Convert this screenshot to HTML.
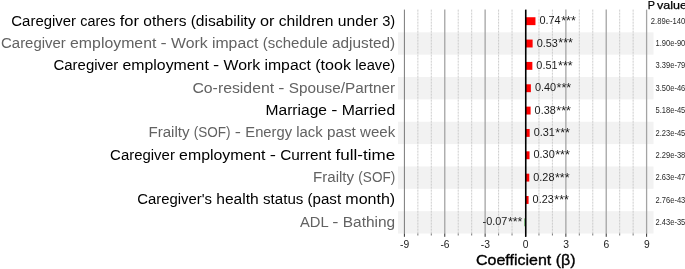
<!DOCTYPE html>
<html><head><meta charset="utf-8"><title>Coefficient plot</title>
<style>
html,body{margin:0;padding:0;background:#fff;}
body{width:685px;height:269px;overflow:hidden;}
svg{display:block;}
text{font-family:"Liberation Sans","DejaVu Sans",sans-serif;}
.lab{font-size:15.4px;}
.val{font-size:11.6px;fill:#1a1a1a;}
.ast{font-size:13.2px;}
.pv{font-size:9px;fill:#2a2a2a;}
.tick{font-size:10.3px;fill:#222;text-anchor:middle;}
.ttl{font-size:15.2px;fill:#000;stroke:#000;stroke-width:0.35px;}
.ph{font-size:11.8px;fill:#000;stroke:#000;stroke-width:0.25px;}
</style></head><body>
<svg width="685" height="269" viewBox="0 0 685 269">
<rect width="685" height="269" fill="#ffffff"/>

<rect x="398" y="32.35" width="255.5" height="22.35" fill="#f2f2f2"/>
<rect x="398" y="77.05" width="255.5" height="22.35" fill="#f2f2f2"/>
<rect x="398" y="121.75" width="255.5" height="22.35" fill="#f2f2f2"/>
<rect x="398" y="166.45" width="255.5" height="22.35" fill="#f2f2f2"/>
<rect x="398" y="211.15" width="255.5" height="22.35" fill="#f2f2f2"/>
<line x1="404.40" x2="404.40" y1="9.60" y2="233.50" stroke="#787878" stroke-width="1.0"/>
<line x1="417.86" x2="417.86" y1="9.60" y2="233.50" stroke="#c2c2c2" stroke-width="0.8" stroke-dasharray="2.1 0.9"/>
<line x1="431.31" x2="431.31" y1="9.60" y2="233.50" stroke="#c2c2c2" stroke-width="0.8" stroke-dasharray="2.1 0.9"/>
<line x1="444.77" x2="444.77" y1="9.60" y2="233.50" stroke="#a4a4a4" stroke-width="1.3"/>
<line x1="458.23" x2="458.23" y1="9.60" y2="233.50" stroke="#c2c2c2" stroke-width="0.8" stroke-dasharray="2.1 0.9"/>
<line x1="471.68" x2="471.68" y1="9.60" y2="233.50" stroke="#c2c2c2" stroke-width="0.8" stroke-dasharray="2.1 0.9"/>
<line x1="485.13" x2="485.13" y1="9.60" y2="233.50" stroke="#a4a4a4" stroke-width="1.3"/>
<line x1="498.59" x2="498.59" y1="9.60" y2="233.50" stroke="#c2c2c2" stroke-width="0.8" stroke-dasharray="2.1 0.9"/>
<line x1="512.04" x2="512.04" y1="9.60" y2="233.50" stroke="#c2c2c2" stroke-width="0.8" stroke-dasharray="2.1 0.9"/>
<line x1="538.96" x2="538.96" y1="9.60" y2="233.50" stroke="#c2c2c2" stroke-width="0.8" stroke-dasharray="2.1 0.9"/>
<line x1="552.41" x2="552.41" y1="9.60" y2="233.50" stroke="#c2c2c2" stroke-width="0.8" stroke-dasharray="2.1 0.9"/>
<line x1="565.87" x2="565.87" y1="9.60" y2="233.50" stroke="#a4a4a4" stroke-width="1.3"/>
<line x1="579.32" x2="579.32" y1="9.60" y2="233.50" stroke="#c2c2c2" stroke-width="0.8" stroke-dasharray="2.1 0.9"/>
<line x1="592.77" x2="592.77" y1="9.60" y2="233.50" stroke="#c2c2c2" stroke-width="0.8" stroke-dasharray="2.1 0.9"/>
<line x1="606.23" x2="606.23" y1="9.60" y2="233.50" stroke="#a4a4a4" stroke-width="1.3"/>
<line x1="619.68" x2="619.68" y1="9.60" y2="233.50" stroke="#c2c2c2" stroke-width="0.8" stroke-dasharray="2.1 0.9"/>
<line x1="633.14" x2="633.14" y1="9.60" y2="233.50" stroke="#c2c2c2" stroke-width="0.8" stroke-dasharray="2.1 0.9"/>
<line x1="646.60" x2="646.60" y1="9.60" y2="233.50" stroke="#a4a4a4" stroke-width="1.3"/>
<line x1="404.40" x2="404.40" y1="233.50" y2="236.80" stroke="#333" stroke-width="1"/>
<text class="tick" x="404.60" y="247.8">-9</text>
<line x1="417.86" x2="417.86" y1="233.50" y2="235.50" stroke="#555" stroke-width="0.8"/>
<line x1="431.31" x2="431.31" y1="233.50" y2="235.50" stroke="#555" stroke-width="0.8"/>
<line x1="444.77" x2="444.77" y1="233.50" y2="236.80" stroke="#333" stroke-width="1"/>
<text class="tick" x="444.97" y="247.8">-6</text>
<line x1="458.23" x2="458.23" y1="233.50" y2="235.50" stroke="#555" stroke-width="0.8"/>
<line x1="471.68" x2="471.68" y1="233.50" y2="235.50" stroke="#555" stroke-width="0.8"/>
<line x1="485.13" x2="485.13" y1="233.50" y2="236.80" stroke="#333" stroke-width="1"/>
<text class="tick" x="485.33" y="247.8">-3</text>
<line x1="498.59" x2="498.59" y1="233.50" y2="235.50" stroke="#555" stroke-width="0.8"/>
<line x1="512.04" x2="512.04" y1="233.50" y2="235.50" stroke="#555" stroke-width="0.8"/>
<line x1="525.50" x2="525.50" y1="233.50" y2="236.80" stroke="#333" stroke-width="1"/>
<text class="tick" x="525.70" y="247.8">0</text>
<line x1="538.96" x2="538.96" y1="233.50" y2="235.50" stroke="#555" stroke-width="0.8"/>
<line x1="552.41" x2="552.41" y1="233.50" y2="235.50" stroke="#555" stroke-width="0.8"/>
<line x1="565.87" x2="565.87" y1="233.50" y2="236.80" stroke="#333" stroke-width="1"/>
<text class="tick" x="566.07" y="247.8">3</text>
<line x1="579.32" x2="579.32" y1="233.50" y2="235.50" stroke="#555" stroke-width="0.8"/>
<line x1="592.77" x2="592.77" y1="233.50" y2="235.50" stroke="#555" stroke-width="0.8"/>
<line x1="606.23" x2="606.23" y1="233.50" y2="236.80" stroke="#333" stroke-width="1"/>
<text class="tick" x="606.43" y="247.8">6</text>
<line x1="619.68" x2="619.68" y1="233.50" y2="235.50" stroke="#555" stroke-width="0.8"/>
<line x1="633.14" x2="633.14" y1="233.50" y2="235.50" stroke="#555" stroke-width="0.8"/>
<line x1="646.60" x2="646.60" y1="233.50" y2="236.80" stroke="#333" stroke-width="1"/>
<text class="tick" x="646.80" y="247.8">9</text>
<text class="lab" y="25.68" fill="#000000"><tspan x="11.33" textLength="64.76" lengthAdjust="spacingAndGlyphs">Caregiver</tspan> <tspan x="80.33" textLength="35.12" lengthAdjust="spacingAndGlyphs">cares</tspan> <tspan x="119.70" textLength="19.32" lengthAdjust="spacingAndGlyphs">for</tspan> <tspan x="143.26" textLength="43.16" lengthAdjust="spacingAndGlyphs">others</tspan> <tspan x="190.67" textLength="65.13" lengthAdjust="spacingAndGlyphs">(disability</tspan> <tspan x="260.05" textLength="14.47" lengthAdjust="spacingAndGlyphs">or</tspan> <tspan x="278.77" textLength="54.79" lengthAdjust="spacingAndGlyphs">children</tspan> <tspan x="337.80" textLength="40.12" lengthAdjust="spacingAndGlyphs">under</tspan> <tspan x="382.17" textLength="13.03" lengthAdjust="spacingAndGlyphs">3)</tspan></text>
<rect x="525.50" y="17.23" width="9.96" height="7.9" fill="#ff0000"/>
<text class="val" x="539.46" y="24.23"><tspan textLength="21.2" lengthAdjust="spacingAndGlyphs">0.74</tspan><tspan class="ast" dx="0.5" dy="0.9" textLength="14.6" lengthAdjust="spacingAndGlyphs">***</tspan></text>
<text class="pv" x="650.80" y="23.78" textLength="34.5" lengthAdjust="spacingAndGlyphs">2.89e-140</text>
<text class="lab" y="48.03" fill="#626262"><tspan x="1.04" textLength="64.76" lengthAdjust="spacingAndGlyphs">Caregiver</tspan> <tspan x="70.05" textLength="86.34" lengthAdjust="spacingAndGlyphs">employment</tspan> <tspan x="160.63" textLength="6.20" lengthAdjust="spacingAndGlyphs">-</tspan> <tspan x="171.08" textLength="36.65" lengthAdjust="spacingAndGlyphs">Work</tspan> <tspan x="211.97" textLength="46.50" lengthAdjust="spacingAndGlyphs">impact</tspan> <tspan x="262.72" textLength="65.00" lengthAdjust="spacingAndGlyphs">(schedule</tspan> <tspan x="331.97" textLength="63.23" lengthAdjust="spacingAndGlyphs">adjusted)</tspan></text>
<rect x="525.50" y="39.58" width="7.13" height="7.9" fill="#ff0000"/>
<text class="val" x="536.63" y="46.58"><tspan textLength="21.2" lengthAdjust="spacingAndGlyphs">0.53</tspan><tspan class="ast" dx="0.5" dy="0.9" textLength="14.6" lengthAdjust="spacingAndGlyphs">***</tspan></text>
<text class="pv" x="655.50" y="46.13" textLength="29.8" lengthAdjust="spacingAndGlyphs">1.90e-90</text>
<text class="lab" y="70.38" fill="#000000"><tspan x="53.53" textLength="64.76" lengthAdjust="spacingAndGlyphs">Caregiver</tspan> <tspan x="122.53" textLength="86.34" lengthAdjust="spacingAndGlyphs">employment</tspan> <tspan x="213.12" textLength="6.20" lengthAdjust="spacingAndGlyphs">-</tspan> <tspan x="223.56" textLength="36.65" lengthAdjust="spacingAndGlyphs">Work</tspan> <tspan x="264.46" textLength="46.50" lengthAdjust="spacingAndGlyphs">impact</tspan> <tspan x="315.20" textLength="35.80" lengthAdjust="spacingAndGlyphs">(took</tspan> <tspan x="355.25" textLength="39.95" lengthAdjust="spacingAndGlyphs">leave)</tspan></text>
<rect x="525.50" y="61.92" width="6.86" height="7.9" fill="#ff0000"/>
<text class="val" x="536.36" y="68.92"><tspan textLength="21.2" lengthAdjust="spacingAndGlyphs">0.51</tspan><tspan class="ast" dx="0.5" dy="0.9" textLength="14.6" lengthAdjust="spacingAndGlyphs">***</tspan></text>
<text class="pv" x="655.50" y="68.47" textLength="29.8" lengthAdjust="spacingAndGlyphs">3.39e-79</text>
<text class="lab" y="92.73" fill="#626262"><tspan x="192.41" textLength="81.73" lengthAdjust="spacingAndGlyphs">Co-resident</tspan> <tspan x="278.39" textLength="6.20" lengthAdjust="spacingAndGlyphs">-</tspan> <tspan x="288.83" textLength="106.37" lengthAdjust="spacingAndGlyphs">Spouse/Partner</tspan></text>
<rect x="525.50" y="84.28" width="5.38" height="7.9" fill="#ff0000"/>
<text class="val" x="534.88" y="91.28"><tspan textLength="21.2" lengthAdjust="spacingAndGlyphs">0.40</tspan><tspan class="ast" dx="0.5" dy="0.9" textLength="14.6" lengthAdjust="spacingAndGlyphs">***</tspan></text>
<text class="pv" x="655.50" y="90.83" textLength="29.8" lengthAdjust="spacingAndGlyphs">3.50e-46</text>
<text class="lab" y="115.08" fill="#000000"><tspan x="265.52" textLength="61.44" lengthAdjust="spacingAndGlyphs">Marriage</tspan> <tspan x="331.20" textLength="6.20" lengthAdjust="spacingAndGlyphs">-</tspan> <tspan x="341.65" textLength="53.55" lengthAdjust="spacingAndGlyphs">Married</tspan></text>
<rect x="525.50" y="106.62" width="5.11" height="7.9" fill="#ff0000"/>
<text class="val" x="534.61" y="113.62"><tspan textLength="21.2" lengthAdjust="spacingAndGlyphs">0.38</tspan><tspan class="ast" dx="0.5" dy="0.9" textLength="14.6" lengthAdjust="spacingAndGlyphs">***</tspan></text>
<text class="pv" x="655.50" y="113.17" textLength="29.8" lengthAdjust="spacingAndGlyphs">5.18e-45</text>
<text class="lab" y="137.43" fill="#626262"><tspan x="148.43" textLength="41.10" lengthAdjust="spacingAndGlyphs">Frailty</tspan> <tspan x="193.78" textLength="36.84" lengthAdjust="spacingAndGlyphs">(SOF)</tspan> <tspan x="234.86" textLength="6.20" lengthAdjust="spacingAndGlyphs">-</tspan> <tspan x="245.31" textLength="46.70" lengthAdjust="spacingAndGlyphs">Energy</tspan> <tspan x="296.26" textLength="26.50" lengthAdjust="spacingAndGlyphs">lack</tspan> <tspan x="327.01" textLength="28.83" lengthAdjust="spacingAndGlyphs">past</tspan> <tspan x="360.08" textLength="35.12" lengthAdjust="spacingAndGlyphs">week</tspan></text>
<rect x="525.50" y="128.98" width="4.17" height="7.9" fill="#ff0000"/>
<text class="val" x="533.67" y="135.98"><tspan textLength="21.2" lengthAdjust="spacingAndGlyphs">0.31</tspan><tspan class="ast" dx="0.5" dy="0.9" textLength="14.6" lengthAdjust="spacingAndGlyphs">***</tspan></text>
<text class="pv" x="655.50" y="135.53" textLength="29.8" lengthAdjust="spacingAndGlyphs">2.23e-45</text>
<text class="lab" y="159.78" fill="#000000"><tspan x="110.11" textLength="64.76" lengthAdjust="spacingAndGlyphs">Caregiver</tspan> <tspan x="179.12" textLength="86.34" lengthAdjust="spacingAndGlyphs">employment</tspan> <tspan x="269.70" textLength="6.20" lengthAdjust="spacingAndGlyphs">-</tspan> <tspan x="280.15" textLength="51.25" lengthAdjust="spacingAndGlyphs">Current</tspan> <tspan x="335.64" textLength="59.56" lengthAdjust="spacingAndGlyphs">full-time</tspan></text>
<rect x="525.50" y="151.33" width="4.04" height="7.9" fill="#ff0000"/>
<text class="val" x="533.54" y="158.33"><tspan textLength="21.2" lengthAdjust="spacingAndGlyphs">0.30</tspan><tspan class="ast" dx="0.5" dy="0.9" textLength="14.6" lengthAdjust="spacingAndGlyphs">***</tspan></text>
<text class="pv" x="655.50" y="157.88" textLength="29.8" lengthAdjust="spacingAndGlyphs">2.29e-38</text>
<text class="lab" y="182.12" fill="#626262"><tspan x="313.02" textLength="41.10" lengthAdjust="spacingAndGlyphs">Frailty</tspan> <tspan x="358.36" textLength="36.84" lengthAdjust="spacingAndGlyphs">(SOF)</tspan></text>
<rect x="525.50" y="173.68" width="3.77" height="7.9" fill="#ff0000"/>
<text class="val" x="533.27" y="180.68"><tspan textLength="21.2" lengthAdjust="spacingAndGlyphs">0.28</tspan><tspan class="ast" dx="0.5" dy="0.9" textLength="14.6" lengthAdjust="spacingAndGlyphs">***</tspan></text>
<text class="pv" x="655.50" y="180.22" textLength="29.8" lengthAdjust="spacingAndGlyphs">2.63e-47</text>
<text class="lab" y="204.48" fill="#000000"><tspan x="137.13" textLength="74.90" lengthAdjust="spacingAndGlyphs">Caregiver's</tspan> <tspan x="216.28" textLength="42.51" lengthAdjust="spacingAndGlyphs">health</tspan> <tspan x="263.04" textLength="40.30" lengthAdjust="spacingAndGlyphs">status</tspan> <tspan x="307.59" textLength="33.51" lengthAdjust="spacingAndGlyphs">(past</tspan> <tspan x="345.34" textLength="49.86" lengthAdjust="spacingAndGlyphs">month)</tspan></text>
<rect x="525.50" y="196.03" width="3.09" height="7.9" fill="#ff0000"/>
<text class="val" x="532.59" y="203.03"><tspan textLength="21.2" lengthAdjust="spacingAndGlyphs">0.23</tspan><tspan class="ast" dx="0.5" dy="0.9" textLength="14.6" lengthAdjust="spacingAndGlyphs">***</tspan></text>
<text class="pv" x="655.50" y="202.58" textLength="29.8" lengthAdjust="spacingAndGlyphs">2.76e-43</text>
<text class="lab" y="226.83" fill="#626262"><tspan x="299.94" textLength="28.17" lengthAdjust="spacingAndGlyphs">ADL</tspan> <tspan x="332.35" textLength="6.20" lengthAdjust="spacingAndGlyphs">-</tspan> <tspan x="342.80" textLength="52.40" lengthAdjust="spacingAndGlyphs">Bathing</tspan></text>
<rect x="524.56" y="218.38" width="0.94" height="7.9" fill="#008000"/>
<text class="val" x="482.6" y="225.38"><tspan textLength="24.8" lengthAdjust="spacingAndGlyphs">-0.07</tspan><tspan class="ast" dx="0.5" dy="0.9" textLength="14.6" lengthAdjust="spacingAndGlyphs">***</tspan></text>
<text class="pv" x="655.50" y="224.93" textLength="29.8" lengthAdjust="spacingAndGlyphs">2.43e-35</text>
<line x1="525.75" x2="525.75" y1="9.60" y2="236.80" stroke="#000" stroke-width="1.6"/>
<text class="ttl" x="476.0" y="265" textLength="99.6" lengthAdjust="spacingAndGlyphs">Coefficient (β)</text>
<text class="ph" y="8.9"><tspan x="647.7" textLength="7.0" lengthAdjust="spacingAndGlyphs">P</tspan> <tspan x="657.0" textLength="30.0" lengthAdjust="spacingAndGlyphs">value</tspan></text>
</svg></body></html>
